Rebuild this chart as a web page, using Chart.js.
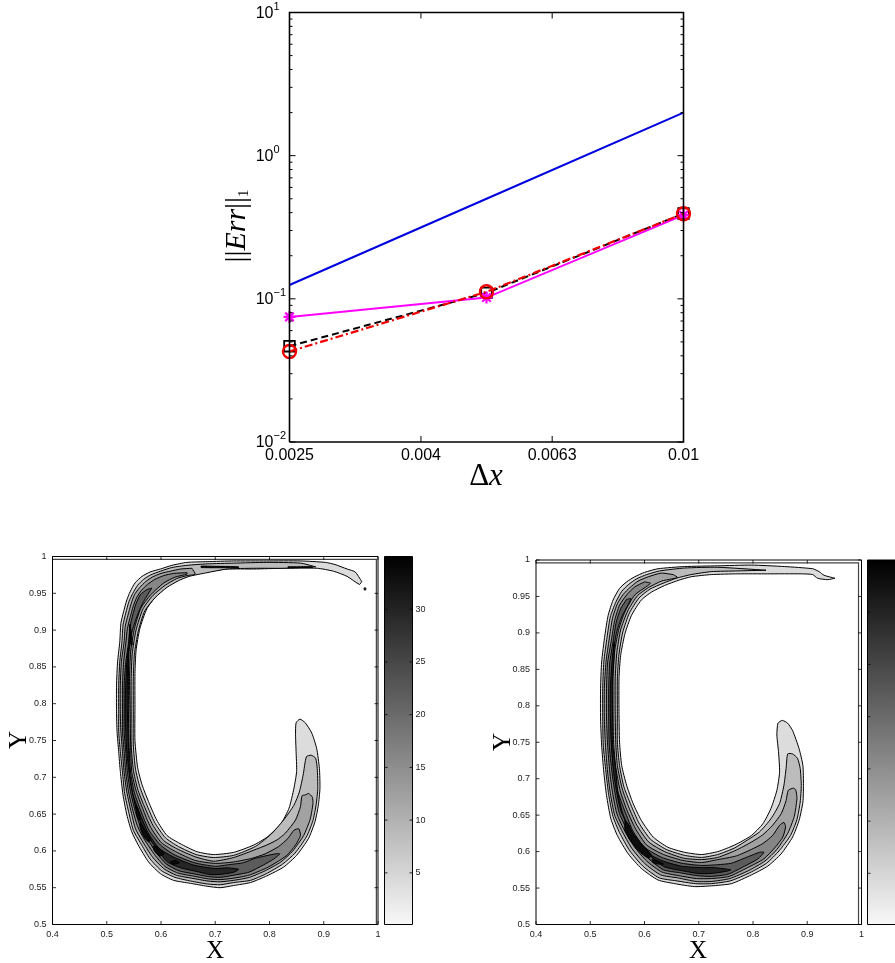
<!DOCTYPE html>
<html>
<head>
<meta charset="utf-8">
<title>Error convergence and contours</title>
<script src="https://cdn.jsdelivr.net/npm/chart.js@4"></script>
<style>
    html, body { margin: 0; background: #fff; overflow: hidden; }
    canvas { position: absolute; left: 0; top: 0; }
</style>
</head>
<body>
<canvas id="errChart"></canvas>
<canvas id="leftContour"></canvas>
<canvas id="leftBar"></canvas>
<canvas id="rightContour"></canvas>
<canvas id="rightBar"></canvas>
<script>
// Convergence plot values
const dxValues = [0.0025, 0.005, 0.01];
const blueErr = [0.125, 0.5, 2];
const magentaErr = [0.0748, 0.102, 0.384];
const blackErr = [0.0467, 0.11, 0.394];
const redErr = [0.0429, 0.112, 0.393];
const dxTicks = [0.0025, 0.00397, 0.0063, 0.01];
const dxTickLabels = ['0.0025', '0.004', '0.0063', '0.01'];
const errDecades = [0.01, 0.1, 1, 10];
const errExponents = ['\u22122', '\u22121', '0', '1'];
const errMinor = [0.02, 0.03, 0.04, 0.05, 0.06, 0.07, 0.08, 0.09, 0.2, 0.3, 0.4, 0.5, 0.6, 0.7, 0.8, 0.9, 2, 3, 4, 5, 6, 7, 8, 9];

// Contour axes
const xTicks = [0.4, 0.5, 0.6, 0.7, 0.8, 0.9, 1];
const xTickLabels = ['0.4', '0.5', '0.6', '0.7', '0.8', '0.9', '1'];
const yTicks = [0.5, 0.55, 0.6, 0.65, 0.7, 0.75, 0.8, 0.85, 0.9, 0.95, 1];
const yTickLabels = ['0.5', '0.55', '0.6', '0.65', '0.7', '0.75', '0.8', '0.85', '0.9', '0.95', '1'];
const barTicks = [5, 10, 15, 20, 25, 30];
const barRange = [0.1, 35];
const levelGrays = ['#dcdcdc', '#bcbcbc', '#a2a2a2', '#868686', '#5c5c5c', '#262626'];

// Left panel contours as [x, y]
const leftLevel1 = [[.970,.966],[.958,.979],[.943,.983],[.921,.989],[.903,.992],[.857,.994],[.795,.994],[.734,.994],[.685,.993],[.648,.992],[.620,.988],[.599,.983],[.580,.979],[.565,.973],[.552,.964],[.543,.952],[.537,.941],[.531,.925],[.526,.909],[.524,.884],[.520,.857],[.518,.825],[.518,.789],[.519,.762],[.522,.735],[.525,.708],[.530,.676],[.537,.649],[.546,.626],[.558,.608],[.577,.585],[.599,.569],[.623,.560],[.654,.556],[.685,.552],[.709,.550],[.734,.553],[.765,.557],[.795,.566],[.826,.578],[.850,.594],[.872,.617],[.884,.640],[.890,.662],[.893,.685],[.892,.712],[.887,.739],[.878,.760],[.866,.774],[.856,.779],[.849,.774],[.848,.758],[.849,.735],[.850,.708],[.845,.685],[.836,.658],[.821,.637],[.796,.619],[.771,.608],[.734,.598],[.697,.595],[.666,.599],[.635,.610],[.611,.621],[.592,.642],[.577,.667],[.565,.690],[.557,.713],[.552,.750],[.552,.795],[.552,.841],[.554,.872],[.561,.902],[.574,.929],[.592,.947],[.613,.960],[.635,.969],[.653,.974],[.685,.979],[.722,.983],[.771,.983],[.826,.984],[.888,.984],[.918,.980],[.943,.973],[.966,.962]];
const leftLevel2 = [[.885,.986],[.857,.991],[.795,.992],[.734,.991],[.685,.990],[.648,.988],[.620,.985],[.599,.980],[.581,.975],[.568,.969],[.557,.961],[.548,.950],[.541,.939],[.535,.923],[.530,.907],[.528,.884],[.524,.857],[.522,.825],[.522,.789],[.522,.762],[.525,.735],[.529,.707],[.533,.678],[.541,.651],[.549,.628],[.562,.611],[.580,.589],[.601,.573],[.626,.564],[.655,.559],[.686,.555],[.709,.554],[.734,.557],[.765,.560],[.794,.569],[.824,.582],[.847,.597],[.868,.619],[.880,.641],[.886,.663],[.889,.685],[.888,.712],[.885,.726],[.877,.730],[.868,.728],[.862,.703],[.855,.680],[.845,.662],[.826,.642],[.802,.622],[.774,.606],[.734,.594],[.697,.591],[.665,.595],[.632,.606],[.608,.618],[.588,.639],[.573,.664],[.561,.687],[.553,.711],[.549,.744],[.549,.789],[.549,.834],[.551,.867],[.558,.898],[.570,.926],[.589,.944],[.611,.958],[.632,.967],[.652,.973],[.685,.978],[.722,.983],[.771,.984],[.826,.984]];
const leftLevel3 = [[.657,.984],[.636,.983],[.617,.980],[.600,.977],[.584,.972],[.572,.966],[.561,.958],[.551,.948],[.545,.936],[.539,.920],[.534,.905],[.532,.884],[.527,.857],[.525,.825],[.525,.789],[.526,.762],[.529,.735],[.532,.707],[.537,.680],[.545,.653],[.553,.630],[.565,.614],[.584,.592],[.605,.576],[.628,.567],[.656,.563],[.687,.559],[.709,.558],[.734,.560],[.763,.564],[.792,.573],[.821,.585],[.843,.600],[.863,.621],[.875,.643],[.880,.664],[.879,.673],[.872,.678],[.866,.676],[.860,.675],[.857,.660],[.848,.642],[.829,.624],[.814,.615],[.795,.608],[.771,.601],[.734,.591],[.697,.586],[.663,.592],[.629,.603],[.605,.614],[.585,.635],[.569,.661],[.557,.684],[.549,.710],[.545,.744],[.545,.789],[.545,.834],[.547,.868],[.554,.900],[.567,.929],[.585,.947],[.608,.961],[.629,.970],[.648,.974],[.663,.976]];
const leftLevel4 = [[.648,.978],[.623,.977],[.605,.974],[.589,.969],[.575,.962],[.564,.954],[.555,.944],[.549,.933],[.543,.917],[.538,.902],[.535,.882],[.531,.856],[.529,.825],[.529,.789],[.529,.762],[.532,.735],[.535,.707],[.540,.681],[.548,.655],[.557,.633],[.569,.616],[.588,.595],[.607,.579],[.631,.570],[.658,.566],[.687,.562],[.709,.561],[.734,.563],[.762,.567],[.795,.577],[.814,.585],[.832,.594],[.848,.608],[.857,.621],[.854,.630],[.845,.628],[.834,.617],[.817,.606],[.792,.596],[.768,.590],[.734,.585],[.700,.583],[.663,.587],[.627,.599],[.601,.611],[.581,.632],[.566,.658],[.554,.682],[.546,.708],[.544,.744],[.543,.789],[.542,.834],[.544,.870],[.551,.902],[.563,.930],[.581,.948],[.605,.964],[.626,.972],[.648,.976]];
const leftLevel5 = [[.583,.957],[.574,.955],[.562,.948],[.554,.936],[.548,.921],[.543,.905],[.540,.882],[.535,.856],[.532,.825],[.532,.789],[.532,.762],[.535,.735],[.538,.707],[.543,.683],[.551,.658],[.561,.635],[.573,.619],[.591,.598],[.610,.582],[.633,.573],[.659,.569],[.688,.565],[.709,.564],[.734,.567],[.762,.571],[.789,.581],[.808,.589],[.819,.596],[.811,.596],[.774,.590],[.752,.584],[.722,.581],[.700,.579],[.661,.584],[.624,.595],[.599,.608],[.578,.628],[.563,.654],[.551,.679],[.544,.707],[.541,.744],[.540,.789],[.540,.834],[.541,.871],[.547,.899],[.559,.925],[.568,.939]];
const leftLevel6 = [[.543,.908],[.541,.882],[.537,.856],[.535,.825],[.534,.789],[.535,.762],[.537,.735],[.541,.707],[.546,.684],[.553,.660],[.563,.637],[.575,.621],[.594,.601],[.612,.585],[.636,.577],[.660,.573],[.690,.568],[.709,.568],[.734,.571],[.743,.575],[.722,.577],[.700,.576],[.659,.581],[.622,.592],[.596,.604],[.576,.625],[.561,.651],[.548,.677],[.542,.707],[.540,.744],[.538,.789],[.538,.834],[.540,.868],[.545,.893]];
const leftPatches = [
    [[.562,.639],[.569,.630],[.581,.615],[.577,.612],[.567,.621],[.561,.633]],
    [[.585,.606],[.592,.606],[.606,.596],[.597,.593],[.588,.600]],
    [[.617,.585],[.626,.587],[.634,.584],[.623,.582]],
    [[.553,.662],[.557,.658],[.562,.642],[.557,.644]],
    [[.543,.907],[.547,.880],[.545,.880],[.542,.905]],
    [[.674,.987],[.743,.986],[.743,.985],[.674,.985]],
    [[.834,.986],[.879,.986],[.879,.985],[.834,.985]],
    [[.976,.958],[.978,.956],[.976,.954],[.974,.956]]
];
const leftInnerBox = [[.4,.996],[.997,.996],[.997,.5]];

// Right panel contours
const rightLevel1 = [[.951,.975],[.931,.979],[.922,.984],[.910,.988],[.858,.991],[.797,.993],[.735,.992],[.674,.991],[.625,.988],[.600,.983],[.582,.977],[.567,.970],[.554,.961],[.542,.945],[.533,.924],[.527,.897],[.521,.860],[.519,.824],[.519,.782],[.521,.746],[.525,.709],[.530,.677],[.538,.645],[.550,.622],[.570,.597],[.594,.577],[.625,.561],[.656,.556],[.692,.552],[.723,.553],[.760,.556],[.797,.568],[.827,.580],[.852,.597],[.873,.620],[.885,.643],[.892,.668],[.893,.691],[.892,.718],[.885,.741],[.873,.766],[.864,.776],[.854,.780],[.846,.776],[.844,.760],[.847,.737],[.849,.709],[.844,.684],[.833,.659],[.818,.638],[.797,.622],[.766,.609],[.735,.600],[.705,.596],[.674,.599],[.643,.606],[.616,.620],[.594,.643],[.579,.666],[.567,.691],[.558,.718],[.554,.750],[.553,.792],[.553,.837],[.556,.869],[.564,.899],[.576,.924],[.594,.945],[.613,.956],[.637,.965],[.662,.972],[.686,.977],[.723,.980],[.772,.981],[.827,.981],[.889,.981],[.910,.980],[.919,.975],[.938,.973]];
const rightLevel2 = [[.824,.986],[.735,.990],[.674,.989],[.628,.985],[.604,.980],[.585,.974],[.570,.966],[.558,.957],[.547,.942],[.537,.922],[.531,.894],[.525,.860],[.523,.824],[.523,.782],[.524,.746],[.529,.709],[.534,.678],[.542,.648],[.554,.626],[.573,.601],[.597,.580],[.627,.564],[.658,.560],[.694,.556],[.723,.556],[.759,.560],[.794,.571],[.825,.584],[.848,.601],[.869,.622],[.881,.644],[.887,.668],[.889,.691],[.887,.714],[.882,.728],[.873,.734],[.864,.734],[.861,.714],[.857,.691],[.849,.666],[.833,.645],[.812,.627],[.790,.616],[.766,.605],[.735,.596],[.705,.592],[.673,.595],[.640,.603],[.611,.617],[.590,.639],[.575,.664],[.562,.689],[.554,.718],[.550,.750],[.550,.792],[.550,.837],[.553,.871],[.560,.901],[.572,.927],[.590,.948],[.610,.960],[.634,.968],[.659,.975],[.686,.980],[.723,.984],[.772,.985]];
const rightLevel3 = [[.653,.980],[.631,.982],[.607,.977],[.588,.971],[.573,.962],[.561,.953],[.550,.940],[.541,.920],[.535,.892],[.529,.860],[.526,.824],[.526,.782],[.528,.746],[.532,.709],[.537,.680],[.545,.650],[.558,.629],[.577,.604],[.600,.584],[.630,.568],[.661,.564],[.695,.559],[.723,.559],[.757,.563],[.792,.574],[.822,.587],[.844,.603],[.864,.625],[.876,.648],[.881,.673],[.879,.684],[.875,.687],[.865,.684],[.861,.670],[.852,.652],[.836,.636],[.818,.623],[.797,.613],[.769,.602],[.735,.592],[.705,.589],[.672,.591],[.637,.600],[.608,.613],[.586,.636],[.571,.661],[.559,.686],[.550,.718],[.547,.750],[.546,.792],[.546,.837],[.549,.873],[.556,.904],[.569,.930],[.587,.951],[.607,.962],[.631,.971],[.650,.974],[.661,.976]];
const rightLevel4 = [[.600,.970],[.582,.963],[.567,.952],[.554,.938],[.545,.917],[.539,.890],[.532,.859],[.530,.824],[.530,.782],[.532,.746],[.536,.709],[.541,.681],[.549,.652],[.561,.632],[.581,.607],[.604,.587],[.632,.572],[.663,.567],[.696,.563],[.723,.563],[.756,.566],[.790,.578],[.820,.590],[.841,.606],[.855,.620],[.860,.634],[.857,.640],[.849,.636],[.836,.622],[.818,.611],[.797,.603],[.769,.594],[.735,.589],[.705,.585],[.670,.588],[.635,.596],[.604,.609],[.583,.632],[.567,.658],[.555,.684],[.547,.716],[.543,.750],[.542,.792],[.542,.837],[.545,.875],[.553,.906],[.564,.929],[.582,.952],[.611,.968]];
const rightLevel5 = [[.567,.946],[.556,.933],[.548,.915],[.542,.888],[.536,.859],[.534,.824],[.534,.782],[.535,.746],[.540,.709],[.545,.683],[.553,.654],[.565,.634],[.585,.610],[.608,.590],[.635,.575],[.665,.571],[.697,.567],[.723,.566],[.754,.569],[.787,.581],[.809,.590],[.820,.599],[.812,.599],[.781,.590],[.760,.584],[.735,.582],[.705,.581],[.669,.584],[.632,.592],[.600,.606],[.579,.628],[.564,.655],[.551,.682],[.543,.715],[.539,.750],[.539,.792],[.539,.837],[.542,.869],[.548,.899],[.558,.922],[.575,.947]];
const rightLevel6 = [[.544,.888],[.540,.859],[.537,.824],[.537,.782],[.539,.746],[.543,.709],[.548,.684],[.556,.657],[.569,.636],[.588,.613],[.611,.594],[.637,.579],[.668,.574],[.699,.570],[.723,.570],[.751,.573],[.759,.575],[.729,.578],[.705,.578],[.668,.580],[.631,.588],[.597,.602],[.576,.625],[.560,.652],[.551,.680],[.547,.712],[.541,.750],[.541,.792],[.541,.837],[.544,.869]];
const rightPatches = [
    [[.564,.643],[.570,.638],[.579,.625],[.594,.611],[.613,.595],[.607,.591],[.589,.601],[.573,.616],[.564,.629]],
    [[.614,.590],[.628,.586],[.635,.583],[.625,.583],[.616,.585]]
];
const rightInnerBox = [[.4,.996],[.9945,.996],[.9945,.5]];

// Pixel boxes of the plot areas
const errArea = { left: 289.5, right: 683.5, top: 12.5, bottom: 442 };
const leftArea = { left: 52.5, right: 378, top: 556.5, bottom: 924.5 };
const leftBarArea = { left: 384.5, right: 412.5, top: 556.5, bottom: 924.5 };
const rightArea = { left: 536, right: 861.5, top: 560, bottom: 924.5 };
const rightBarArea = { left: 867.5, right: 895, top: 560, bottom: 924.5 };

const SANS = '"Liberation Sans", Arial, sans-serif';
const SERIF = '"Liberation Serif", "Times New Roman", serif';

// Frame, inward ticks, log labels and axis names
const decorPlugin = {
    id: 'decor',
    afterDraw(chart, args, opts) {
        const { ctx, chartArea: a, scales: { x, y } } = chart;
        ctx.save();
        ctx.strokeStyle = '#000';
        ctx.lineWidth = opts.frameWidth;
        ctx.beginPath();
        ctx.moveTo(a.left, a.bottom);
        ctx.lineTo(a.left, a.top);
        ctx.lineTo(a.right, a.top);
        if (!opts.openRight) {
            ctx.lineTo(a.right, a.bottom);
        } else {
            ctx.moveTo(a.right, a.bottom);
        }
        ctx.lineTo(a.left, a.bottom);
        ctx.stroke();

        ctx.lineWidth = opts.tickWidth;
        const yTick = (v, len) => {
            const py = y.getPixelForValue(v);
            ctx.beginPath();
            ctx.moveTo(a.left, py);
            ctx.lineTo(a.left + len, py);
            if (!opts.openRight) {
                ctx.moveTo(a.right, py);
                ctx.lineTo(a.right - len, py);
            }
            ctx.stroke();
        };
        const xTick = (v, len) => {
            const px = x.getPixelForValue(v);
            ctx.beginPath();
            ctx.moveTo(px, a.bottom);
            ctx.lineTo(px, a.bottom - len);
            ctx.moveTo(px, a.top);
            ctx.lineTo(px, a.top + len);
            ctx.stroke();
        };
        (opts.yMajor || []).forEach(v => yTick(v, opts.majorLen));
        (opts.yMinor || []).forEach(v => yTick(v, opts.minorLen));
        (opts.xMajor || []).forEach(v => xTick(v, opts.majorLen));

        // 10 with a raised exponent on the log axis
        if (opts.decades) {
            ctx.fillStyle = '#000';
            ctx.textBaseline = 'middle';
            opts.decades.forEach((v, i) => {
                const py = y.getPixelForValue(v);
                ctx.textAlign = 'right';
                ctx.font = '16px ' + SANS;
                ctx.fillText('10', a.left - 16, py + 1);
                ctx.textAlign = 'left';
                ctx.font = '11px ' + SANS;
                ctx.fillText(opts.exponents[i], a.left - 16, py - 6);
            });
        }

        (opts.names || []).forEach(n => {
            ctx.save();
            ctx.translate(n.x, n.y);
            ctx.rotate(n.angle || 0);
            ctx.fillStyle = '#000';
            ctx.textBaseline = 'alphabetic';
            ctx.textAlign = 'left';
            const widths = n.runs.map(r => {
                ctx.font = r.font;
                return ctx.measureText(r.text).width;
            });
            let cx = -widths.reduce((s, w) => s + w, 0) / 2;
            n.runs.forEach((r, i) => {
                ctx.font = r.font;
                ctx.fillText(r.text, cx, r.dy || 0);
                cx += widths[i];
            });
            ctx.restore();
        });
        ctx.restore();
    }
};

function sizeCanvas(id) {
    const canvas = document.getElementById(id);
    canvas.width = 895;
    canvas.height = 963;
    canvas.style.width = '895px';
    canvas.style.height = '963px';
    return canvas;
}

// The scale boxes take the margins so their tick labels are not clipped
function leftBottomAxes(area) {
    return {
        padding: { left: 0, top: area.top, right: 895 - area.right, bottom: 0 },
        yWidth: area.left,
        xHeight: 963 - area.bottom
    };
}

function fixedTicks(values) {
    return scale => {
        scale.ticks = values.map(v => ({ value: v }));
    };
}

function toPoints(xs, ys) {
    return xs.map((v, i) => ({ x: v, y: ys[i] }));
}

function loopDataset(points, fillColor, order) {
    const closed = points.concat([points[0]]);
    return {
        data: closed.map(p => ({ x: p[0], y: p[1] })),
        showLine: true,
        fill: 'shape',
        backgroundColor: fillColor,
        borderColor: '#000',
        borderWidth: 1,
        pointRadius: 0,
        tension: 0.2,
        order: order
    };
}

function contourChart(id, area, levels, patches, innerBox, yName, xName) {
    const box = leftBottomAxes(area);
    const datasets = [];
    levels.forEach((pts, i) => datasets.push(loopDataset(pts, levelGrays[i], 100 - i)));
    patches.forEach(pts => datasets.push(loopDataset(pts, '#0c0c0c', 50)));
    datasets.push({
        data: innerBox.map(p => ({ x: p[0], y: p[1] })),
        showLine: true,
        fill: false,
        borderColor: '#444',
        borderWidth: 1.2,
        pointRadius: 0,
        order: 10
    });

    new Chart(sizeCanvas(id), {
        type: 'scatter',
        data: { datasets: datasets },
        plugins: [decorPlugin],
        options: {
            responsive: false,
            animation: false,
            events: [],
            layout: { padding: box.padding },
            plugins: {
                legend: { display: false },
                tooltip: { enabled: false },
                decor: {
                    frameWidth: 1,
                    tickWidth: 0.8,
                    majorLen: 3.5,
                    yMajor: yTicks,
                    xMajor: xTicks,
                    names: [yName, xName]
                }
            },
            scales: {
                x: {
                    type: 'linear',
                    min: 0.4,
                    max: 1,
                    grid: { display: false, drawTicks: false },
                    border: { display: false },
                    afterBuildTicks: fixedTicks(xTicks),
                    afterFit: s => { s.height = box.xHeight; },
                    ticks: {
                        autoSkip: false,
                        maxRotation: 0,
                        padding: 5,
                        color: '#222',
                        font: { family: SANS, size: 9 },
                        callback: (v, i) => xTickLabels[i]
                    }
                },
                y: {
                    type: 'linear',
                    min: 0.5,
                    max: 1,
                    grid: { display: false, drawTicks: false },
                    border: { display: false },
                    afterBuildTicks: fixedTicks(yTicks),
                    afterFit: s => { s.width = box.yWidth; },
                    ticks: {
                        autoSkip: false,
                        padding: 6,
                        color: '#222',
                        font: { family: SANS, size: 9 },
                        callback: (v, i) => yTickLabels[i]
                    }
                }
            }
        }
    });
}

function barChart(id, area, showLabels, openRight) {
    new Chart(sizeCanvas(id), {
        type: 'bar',
        data: {
            labels: ['level'],
            datasets: [{
                data: [barRange],
                categoryPercentage: 1,
                barPercentage: 1,
                backgroundColor: context => {
                    const chart = context.chart;
                    if (!chart.chartArea) {
                        return '#888';
                    }
                    const g = chart.ctx.createLinearGradient(0, chart.chartArea.bottom, 0, chart.chartArea.top);
                    g.addColorStop(0, '#f8f8f8');
                    g.addColorStop(1, '#000000');
                    return g;
                }
            }]
        },
        plugins: [decorPlugin],
        options: {
            responsive: false,
            animation: false,
            events: [],
            layout: { padding: { left: area.left, top: area.top, right: 0, bottom: 963 - area.bottom } },
            plugins: {
                legend: { display: false },
                tooltip: { enabled: false },
                decor: {
                    frameWidth: 1,
                    tickWidth: 0.8,
                    majorLen: 3,
                    yMajor: barTicks,
                    openRight: openRight
                }
            },
            scales: {
                x: { display: false },
                y: {
                    type: 'linear',
                    position: 'right',
                    min: barRange[0],
                    max: barRange[1],
                    grid: { display: false, drawTicks: false },
                    border: { display: false },
                    afterBuildTicks: fixedTicks(barTicks),
                    afterFit: s => { s.width = 895 - area.right; },
                    ticks: {
                        display: showLabels,
                        autoSkip: false,
                        padding: 3,
                        color: '#222',
                        font: { family: SANS, size: 9 }
                    }
                }
            }
        }
    });
}

// Convergence chart
const errBox = leftBottomAxes(errArea);
new Chart(sizeCanvas('errChart'), {
    type: 'scatter',
    data: {
        datasets: [
            {
                data: toPoints(dxValues, redErr),
                showLine: true,
                clip: false,
                borderColor: '#f00000',
                borderWidth: 2.2,
                borderDash: [8, 3, 2, 3],
                pointStyle: 'circle',
                pointRadius: 6.5,
                pointBorderWidth: 2.4,
                pointBorderColor: '#f00000',
                pointBackgroundColor: 'transparent',
                order: 1
            },
            {
                data: toPoints(dxValues, magentaErr),
                showLine: true,
                clip: false,
                borderColor: '#ff00ff',
                borderWidth: 2,
                pointStyle: 'star',
                pointRadius: 6,
                pointBorderWidth: 2.2,
                pointBorderColor: '#ff00ff',
                order: 2
            },
            {
                data: toPoints(dxValues, blackErr),
                showLine: true,
                clip: false,
                borderColor: '#000',
                borderWidth: 2,
                borderDash: [7, 4],
                pointStyle: 'rect',
                pointRadius: 7.5,
                pointBorderWidth: 1.8,
                pointBorderColor: '#000',
                pointBackgroundColor: 'transparent',
                order: 3
            },
            {
                data: toPoints(dxValues, blueErr),
                showLine: true,
                borderColor: '#0000e0',
                borderWidth: 2,
                pointRadius: 0,
                order: 4
            }
        ]
    },
    plugins: [decorPlugin],
    options: {
        responsive: false,
        animation: false,
        events: [],
        layout: { padding: errBox.padding },
        plugins: {
            legend: { display: false },
            tooltip: { enabled: false },
            decor: {
                frameWidth: 1.6,
                tickWidth: 1,
                majorLen: 6,
                minorLen: 3,
                yMajor: errDecades,
                yMinor: errMinor,
                xMajor: dxTicks,
                decades: errDecades,
                exponents: errExponents,
                names: [
                    {
                        x: 245, y: 226, angle: -Math.PI / 2,
                        runs: [
                            { text: '||', font: '30px ' + SERIF },
                            { text: 'Err', font: 'italic 30px ' + SERIF },
                            { text: '||', font: '30px ' + SERIF },
                            { text: '1', font: '15px ' + SERIF, dy: 3 }
                        ]
                    },
                    {
                        x: 486, y: 485,
                        runs: [
                            { text: '\u0394', font: '31px ' + SERIF },
                            { text: 'x', font: 'italic 31px ' + SERIF }
                        ]
                    }
                ]
            }
        },
        scales: {
            x: {
                type: 'logarithmic',
                min: 0.0025,
                max: 0.01,
                grid: { display: false, drawTicks: false },
                border: { display: false },
                afterBuildTicks: fixedTicks(dxTicks),
                afterFit: s => { s.height = errBox.xHeight; },
                ticks: {
                    autoSkip: false,
                    maxRotation: 0,
                    padding: 4,
                    color: '#000',
                    font: { family: SANS, size: 16 },
                    callback: (v, i) => dxTickLabels[i]
                }
            },
            y: {
                type: 'logarithmic',
                min: 0.01,
                max: 10,
                grid: { display: false, drawTicks: false },
                border: { display: false },
                afterFit: s => { s.width = errBox.yWidth; },
                ticks: { display: false }
            }
        }
    }
});

contourChart('leftContour', leftArea,
    [leftLevel1, leftLevel2, leftLevel3, leftLevel4, leftLevel5, leftLevel6],
    leftPatches, leftInnerBox,
    { x: 26, y: 740, angle: -Math.PI / 2, runs: [{ text: 'Y', font: '25px ' + SERIF }] },
    { x: 215, y: 958, runs: [{ text: 'X', font: '25px ' + SERIF }] });
barChart('leftBar', leftBarArea, true, false);

contourChart('rightContour', rightArea,
    [rightLevel1, rightLevel2, rightLevel3, rightLevel4, rightLevel5, rightLevel6],
    rightPatches, rightInnerBox,
    { x: 510, y: 742, angle: -Math.PI / 2, runs: [{ text: 'Y', font: '25px ' + SERIF }] },
    { x: 698, y: 958, runs: [{ text: 'X', font: '25px ' + SERIF }] });
barChart('rightBar', rightBarArea, false, true);
</script>
</body>
</html>
